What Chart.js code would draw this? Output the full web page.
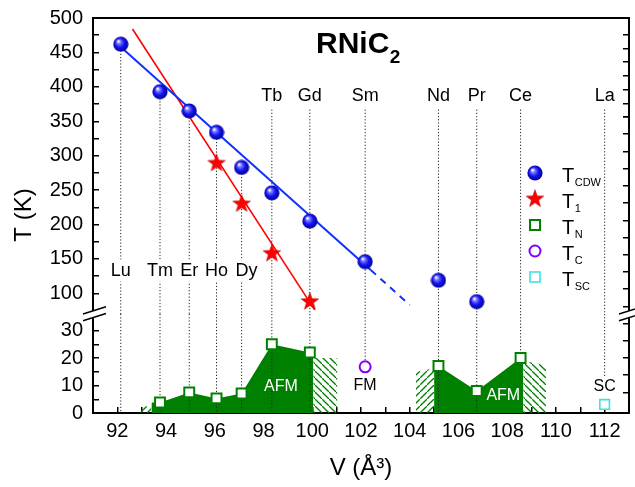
<!DOCTYPE html>
<html>
<head>
<meta charset="utf-8">
<script src="https://cdn.jsdelivr.net/npm/chart.js@4.4.0/dist/chart.umd.min.js"></script>
<style>
  html, body { margin: 0; padding: 0; background: #fff; }
  #contenedor { width: 635px; height: 487px; }
</style>
</head>
<body>
<div id="contenedor"><canvas id="graficoRNiC2"></canvas></div>
<script>
const elementos = ["Lu", "Tm", "Er", "Ho", "Dy", "Tb", "Gd", "Sm", "Nd", "Pr", "Ce", "La"];
const volumen = [92.14, 93.75, 94.95, 96.07, 97.1, 98.34, 99.9, 102.17, 105.18, 106.75, 108.55, 112.0];
const tCDW = [462, 393, 365, 334, 283, 246, 205, 146, 119, 88, null, null];
const t1 = [null, null, null, 290, 231, 159, 89, null, null, null, null, null];
const tN = [null, 3.8, 7.5, 5.3, 7.1, 25, 22, null, 17.1, 8, 20, null];
const tC = [null, null, null, null, null, null, null, 16.8, null, null, null, null];
const tSC = [null, null, null, null, null, null, null, null, null, null, null, 3.1];

// rectas de ajuste
const ajusteCDW_V = [92.14, 102.4];
const ajusteCDW_T = [458, 134];
const extCDW_V = [102.4, 104.0];
const extCDW_T = [134, 83];
const ajusteT1_V = [92.62, 100.1];
const ajusteT1_T = [484, 76];

// zonas AFM rellenas
const afm1V = [93.4, 93.75, 94.95, 96.07, 97.1, 98.34, 99.9, 100.04];
const afm1T = [3.8, 3.8, 7.5, 5.3, 7.1, 25, 22, 22];
const afm2V = [105.0, 105.18, 106.75, 108.55, 108.66];
const afm2T = [17.1, 17.1, 8, 20, 20];

// zonas rayadas
const rayaAV = [92.95, 93.4];   const rayaAT = [2.5, 2.5];
const rayaBV = [100.04, 101.03]; const rayaBT = [20, 20];
const rayaCV = [104.25, 105.0];  const rayaCT = [15, 16.2];
const rayaDV = [108.66, 109.6];  const rayaDT = [19, 17.4];

// etiquetas de texto
const textosAFM = [[98.71, 9.5], [107.84, 6.5]];
const textoFM = [102.17, 9.8];
const textoSC = [112.0, 9.5];

const FILA_INF = 133;   // altura de Lu..Dy (eje superior)
const FILA_SUP = 387;   // altura de Tb..La
const INICIO_PUNTEADO = 367;

const VERDE = "#008000";
const FUENTE = "'Liberation Sans', Arial, sans-serif";
Chart.defaults.font.family = FUENTE;
Chart.defaults.color = "#000";

const pts = (xs, ys) => xs.map((x, i) => ({ x: x, y: ys[i] })).filter((p) => p.y !== null);

// marcadores dibujados en canvas
const esfera = (() => {
  const c = document.createElement("canvas");
  c.width = c.height = 16;
  const g = c.getContext("2d");
  const grad = g.createRadialGradient(5.5, 5, 0.5, 8, 8, 8);
  grad.addColorStop(0, "#ffffff");
  grad.addColorStop(0.2, "#7d7dff");
  grad.addColorStop(0.55, "#1414f5");
  grad.addColorStop(1, "#00008a");
  g.fillStyle = grad;
  g.beginPath();
  g.arc(8, 8, 7.6, 0, Math.PI * 2);
  g.fill();
  return c;
})();

const estrella = (() => {
  const c = document.createElement("canvas");
  c.width = c.height = 20;
  const g = c.getContext("2d");
  const R = 9.2, r = 3.7;
  g.beginPath();
  for (let k = 0; k < 10; k++) {
    const rad = k % 2 === 0 ? R : r;
    const a = -Math.PI / 2 + (k * Math.PI) / 5;
    g.lineTo(10 + rad * Math.cos(a), 10.8 + rad * Math.sin(a));
  }
  g.closePath();
  g.fillStyle = "#ff0000";
  g.fill();
  g.strokeStyle = "#c00000";
  g.lineWidth = 0.6;
  g.stroke();
  return c;
})();

function rayado(ctx, haciaDerecha) {
  const c = document.createElement("canvas");
  c.width = c.height = 7;
  const g = c.getContext("2d");
  g.strokeStyle = VERDE;
  g.lineWidth = 1.3;
  g.beginPath();
  if (haciaDerecha) {
    g.moveTo(-1, -1); g.lineTo(8, 8);
  } else {
    g.moveTo(-1, 8); g.lineTo(8, -1);
  }
  g.stroke();
  return ctx.createPattern(c, "repeat");
}

// lineas punteadas verticales de cada elemento
const punteadoSup = [];
const punteadoInf = [];
elementos.forEach((el, i) => {
  const arriba = i < 5 ? tCDW[i] : INICIO_PUNTEADO;
  punteadoSup.push({ x: volumen[i], y: arriba }, { x: volumen[i], y: 70 }, { x: volumen[i], y: null });
  let abajo = 0;
  if (tC[i] !== null) abajo = tC[i];
  else if (el === "Ce") abajo = tN[i];
  else if (el === "La") abajo = 13;
  punteadoInf.push({ x: volumen[i], y: 36 }, { x: volumen[i], y: abajo }, { x: volumen[i], y: null });
});

const ctx = document.getElementById("graficoRNiC2").getContext("2d");

const base = { showLine: true, pointRadius: 0, pointHoverRadius: 0, borderWidth: 0 };

const ocultarTick = (valores) => (c) => (c.tick && valores.includes(c.tick.value) ? "rgba(0,0,0,0)" : "#000");

const ejeY = (pos, pila, min, max, peso, paso, etiqueta, ocultos) => ({
  type: "linear",
  position: pos,
  stack: pila,
  stackWeight: peso,
  min: min,
  max: max,
  ticks: {
    stepSize: paso,
    includeBounds: false,
    autoSkip: false,
    padding: 16,
    font: { size: 20 },
    color: "#000",
    callback: pos === "left" ? etiqueta : () => "",
  },
  grid: { drawOnChartArea: false, tickLength: -6, lineWidth: 1.5, tickColor: ocultarTick(ocultos) },
  border: { color: "#000", width: 2 },
  afterFit: (s) => {
    s.width = pos === "left" ? 93 : 0;
    s.paddingTop = 0;
    s.paddingBottom = 0;
  },
});

const etiquetaSup = (v) => (v % 50 === 0 && v >= 100 ? v : "");
const etiquetaInf = (v) => (v % 10 === 0 ? v : "");

const corte = {
  id: "corte",
  afterDraw(chart) {
    const { ctx, chartArea, scales } = chart;
    const yb = scales.yTop.bottom;
    ctx.save();
    // marco superior
    ctx.strokeStyle = "#000";
    ctx.lineWidth = 2;
    ctx.beginPath();
    ctx.moveTo(chartArea.left - 1, chartArea.top);
    ctx.lineTo(chartArea.right + 1, chartArea.top);
    ctx.stroke();
    [chartArea.left, chartArea.right].forEach((x) => {
      ctx.fillStyle = "#fff";
      ctx.fillRect(x - 2, yb - 3, 4, 6.5);
      ctx.lineWidth = 1.5;
      ctx.beginPath();
      ctx.moveTo(x - 10, yb); ctx.lineTo(x + 13, yb - 7.2);
      ctx.moveTo(x - 10, yb + 6.7); ctx.lineTo(x + 13, yb - 0.5);
      ctx.stroke();
    });
    ctx.restore();
  },
};

function conSubindice(c, x, y, txt, sub, t1, t2, bajada, negrita) {
  c.font = (negrita ? "bold " : "") + t1 + "px " + FUENTE;
  c.textAlign = "left";
  c.textBaseline = "alphabetic";
  c.fillText(txt, x, y);
  const w = c.measureText(txt).width;
  c.font = (negrita ? "bold " : "") + t2 + "px " + FUENTE;
  c.fillText(sub, x + w + 0.5, y + bajada);
}

const textos = {
  id: "textos",
  afterDatasetsDraw(chart) {
    const { ctx, scales } = chart;
    const { x, yTop, yBot } = scales;
    ctx.save();
    ctx.textAlign = "center";
    ctx.textBaseline = "middle";
    ctx.font = "18px " + FUENTE;
    elementos.forEach((el, i) => {
      let px = x.getPixelForValue(volumen[i]);
      if (el === "Dy") px += 5;
      const py = yTop.getPixelForValue(i < 5 ? FILA_INF : FILA_SUP);
      if (i < 5) {
        const w = ctx.measureText(el).width;
        ctx.fillStyle = "#fff";
        ctx.fillRect(px - w / 2 - 1, py - 11, w + 2, 22);
      }
      ctx.fillStyle = "#000";
      ctx.fillText(el, px, py);
    });
    ctx.font = "16px " + FUENTE;
    ctx.fillStyle = "#fff";
    textosAFM.forEach(([v, t]) => ctx.fillText("AFM", x.getPixelForValue(v), yBot.getPixelForValue(t)));
    ctx.fillStyle = "#000";
    ctx.fillText("FM", x.getPixelForValue(textoFM[0]), yBot.getPixelForValue(textoFM[1]));
    ctx.fillText("SC", x.getPixelForValue(textoSC[0]), yBot.getPixelForValue(textoSC[1]));

    // titulo
    conSubindice(ctx, 316, 53, "RNiC", "2", 30, 19, 10, true);

    // eje Y
    ctx.save();
    ctx.translate(24, 215);
    ctx.rotate(-Math.PI / 2);
    ctx.font = "24px " + FUENTE;
    ctx.textAlign = "center";
    ctx.textBaseline = "middle";
    ctx.fillText("T (K)", 0, 0);
    ctx.restore();

    // leyenda
    const lx = 535, ly = 173, paso = 26;
    ctx.drawImage(esfera, lx - 8, ly - 8);
    ctx.drawImage(estrella, lx - 10, ly + paso - 10.8);
    ctx.lineWidth = 2;
    ctx.strokeStyle = VERDE;
    ctx.strokeRect(lx - 5, ly + 2 * paso - 5, 10, 10);
    ctx.strokeStyle = "#8000ff";
    ctx.beginPath();
    ctx.arc(lx, ly + 3 * paso, 5.5, 0, Math.PI * 2);
    ctx.stroke();
    ctx.strokeStyle = "#40e0e0";
    ctx.lineWidth = 1.6;
    ctx.strokeRect(lx - 5, ly + 4 * paso - 5, 10, 10);
    ctx.fillStyle = "#000";
    const subs = ["CDW", "1", "N", "C", "SC"];
    subs.forEach((s, k) => conSubindice(ctx, 562, ly + k * paso + 8.5, "T", s, 20, 11, 4, false));
    ctx.restore();
  },
};

new Chart(ctx, {
  type: "line",
  data: {
    datasets: [
      // rellenos AFM
      { ...base, data: pts(afm1V, afm1T), yAxisID: "yBot", fill: "origin", backgroundColor: VERDE, order: 5 },
      { ...base, data: pts(afm2V, afm2T), yAxisID: "yBot", fill: "origin", backgroundColor: VERDE, order: 5 },
      { ...base, data: pts(rayaAV, rayaAT), yAxisID: "yBot", fill: "origin", backgroundColor: rayado(ctx, false), order: 5 },
      { ...base, data: pts(rayaBV, rayaBT), yAxisID: "yBot", fill: "origin", backgroundColor: rayado(ctx, true), order: 5 },
      { ...base, data: pts(rayaCV, rayaCT), yAxisID: "yBot", fill: "origin", backgroundColor: rayado(ctx, false), order: 5 },
      { ...base, data: pts(rayaDV, rayaDT), yAxisID: "yBot", fill: "origin", backgroundColor: rayado(ctx, true), order: 5 },
      // punteados
      { ...base, data: punteadoSup, yAxisID: "yTop", borderWidth: 1, borderColor: "#222", borderDash: [1.2, 2], spanGaps: false, order: 4 },
      { ...base, data: punteadoInf, yAxisID: "yBot", borderWidth: 1, borderColor: "#222", borderDash: [1.2, 2], spanGaps: false, order: 4 },
      // ajustes
      { ...base, data: pts(ajusteCDW_V, ajusteCDW_T), yAxisID: "yTop", borderWidth: 2, borderColor: "#1030ff", order: 3 },
      { ...base, data: pts(extCDW_V, extCDW_T), yAxisID: "yTop", borderWidth: 2, borderColor: "#1030ff", borderDash: [7, 6], order: 3 },
      { ...base, data: pts(ajusteT1_V, ajusteT1_T), yAxisID: "yTop", borderWidth: 1.6, borderColor: "#ff0000", order: 3 },
      // puntos
      { label: "TCDW", data: pts(volumen, tCDW), yAxisID: "yTop", showLine: false, pointStyle: esfera, pointRadius: 8, order: 0 },
      { label: "T1", data: pts(volumen, t1), yAxisID: "yTop", showLine: false, pointStyle: estrella, pointRadius: 9, order: 0 },
      { label: "TN", data: pts(volumen, tN), yAxisID: "yBot", showLine: false, pointStyle: "rect", pointRadius: 7, borderWidth: 2, borderColor: VERDE, backgroundColor: "#fff", order: 0 },
      { label: "TC", data: pts(volumen, tC), yAxisID: "yBot", showLine: false, pointStyle: "circle", pointRadius: 5.5, borderWidth: 2, borderColor: "#8000ff", backgroundColor: "#fff", order: 0 },
      { label: "TSC", data: pts(volumen, tSC), yAxisID: "yBot", showLine: false, pointStyle: "rect", pointRadius: 6.8, borderWidth: 1.6, borderColor: "#40e0e0", backgroundColor: "#fff", order: 0 },
    ],
  },
  options: {
    responsive: true,
    maintainAspectRatio: false,
    animation: false,
    layout: { autoPadding: false, padding: { top: 18, right: 6, left: 0, bottom: 0 } },
    plugins: { legend: { display: false }, tooltip: { enabled: false } },
    scales: {
      x: {
        type: "linear",
        position: "bottom",
        min: 91,
        max: 113,
        ticks: {
          stepSize: 1,
          includeBounds: false,
          autoSkip: false,
          maxRotation: 0,
          padding: 12,
          font: { size: 20 },
          color: "#000",
          callback: (v) => (v % 2 === 0 ? v : ""),
        },
        grid: { drawOnChartArea: false, tickLength: -6, lineWidth: 1.5, color: "#000" },
        border: { color: "#000", width: 2 },
        title: { display: true, text: "V (Å³)", font: { size: 24 }, color: "#000", padding: { top: 0, bottom: 4 } },
        afterFit: (s) => {
          s.height = 74;
          s.paddingLeft = 0;
          s.paddingRight = 0;
        },
      },
      yBot: ejeY("left", "izq", 0, 36, 99, 5, etiquetaInf, [35]),
      yTop: ejeY("left", "izq", 70, 500, 296, 25, etiquetaSup, [75]),
      yBotR: ejeY("right", "der", 0, 36, 99, 5, etiquetaInf, [35]),
      yTopR: ejeY("right", "der", 70, 500, 296, 25, etiquetaSup, [75]),
    },
  },
  plugins: [textos, corte],
});
</script>
</body>
</html>
